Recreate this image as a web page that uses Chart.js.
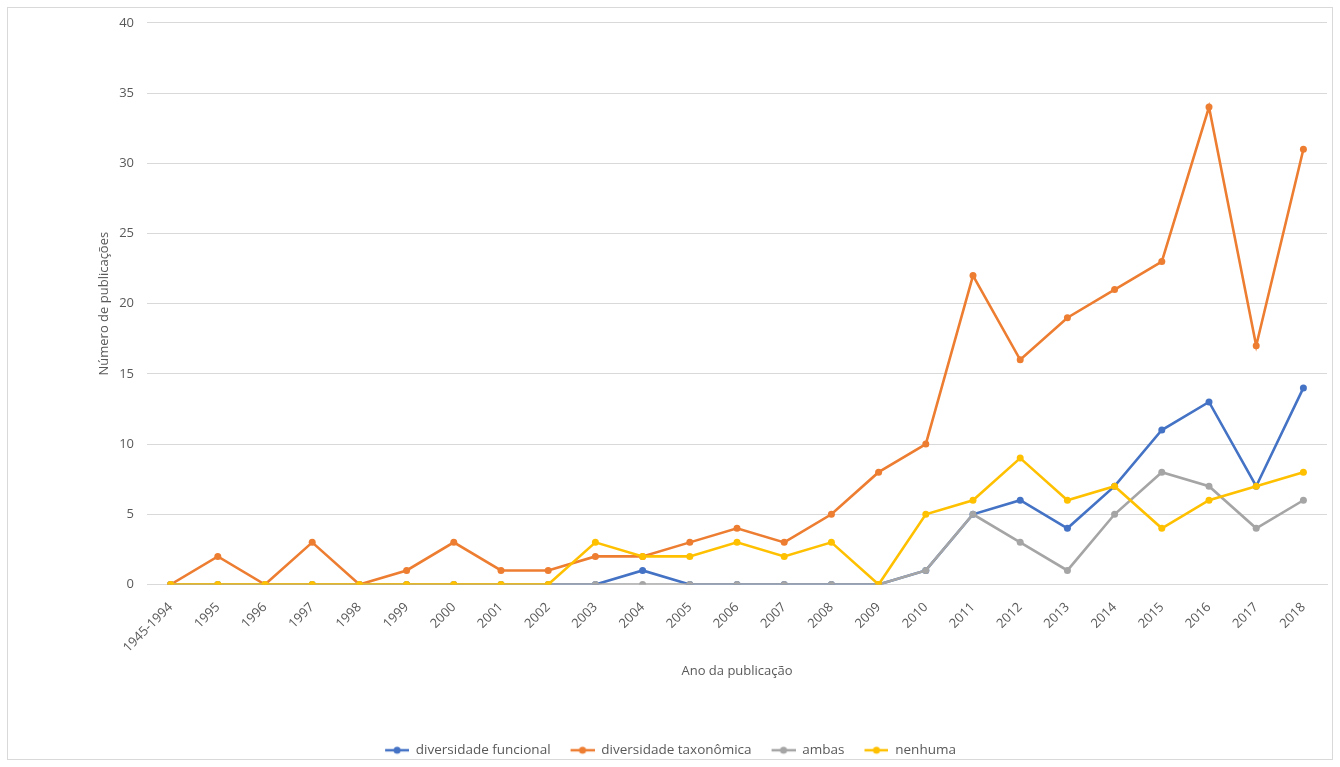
<!DOCTYPE html>
<html>
<head>
<meta charset="utf-8">
<script src="https://cdn.jsdelivr.net/npm/chart.js"></script>
<style>
  html, body { margin: 0; background: #fff; overflow: hidden; }
  #frame { position: absolute; left: 7px; top: 7px; width: 1324px; height: 751px; border: 1px solid #d9d9d9; }
  #chart { position: absolute; left: 8px; top: 2px; display: block; }
</style>
</head>
<body>
<div id="frame"></div>
<canvas id="chart" width="1324" height="765"></canvas>
<script>
// categories and series
const anos = ["1945-1994", "1995", "1996", "1997", "1998", "1999", "2000", "2001", "2002", "2003",
  "2004", "2005", "2006", "2007", "2008", "2009", "2010", "2011", "2012", "2013", "2014", "2015",
  "2016", "2017", "2018"];
const funcional = [0, 0, 0, 0, 0, 0, 0, 0, 0, 0, 1, 0, 0, 0, 0, 0, 1, 5, 6, 4, 7, 11, 13, 7, 14];
const taxonomica = [0, 2, 0, 3, 0, 1, 3, 1, 1, 2, 2, 3, 4, 3, 5, 8, 10, 22, 16, 19, 21, 23, 34, 17, 31];
const ambas = [0, 0, 0, 0, 0, 0, 0, 0, 0, 0, 0, 0, 0, 0, 0, 0, 1, 5, 3, 1, 5, 8, 7, 4, 6];
const nenhuma = [0, 0, 0, 0, 0, 0, 0, 0, 0, 3, 2, 2, 3, 2, 3, 0, 5, 6, 9, 6, 7, 4, 6, 7, 8];
const yTicks = [0, 5, 10, 15, 20, 25, 30, 35, 40];

const fontFam = "'Open Sans', 'Liberation Sans', sans-serif";
const textColor = "#595959";

// small "line with dot" marker like the Excel legend, with blank room on the left as item gap
function legendMarker(color) {
  const c = document.createElement("canvas");
  c.width = 34; c.height = 10;
  const g = c.getContext("2d");
  g.strokeStyle = color; g.lineWidth = 2.5;
  g.beginPath(); g.moveTo(10, 5); g.lineTo(34, 5); g.stroke();
  g.fillStyle = color;
  g.beginPath(); g.arc(22, 5, 3.5, 0, Math.PI * 2); g.fill();
  return c;
}

function serie(label, data, color, order) {
  return {
    label: label,
    data: data,
    order: order,
    borderColor: color,
    backgroundColor: color,
    borderWidth: 2.6,
    pointRadius: 3.5,
    pointHoverRadius: 3.5,
    pointBorderWidth: 0,
    pointStyle: "circle",
    tension: 0,
    legendMarker: legendMarker(color)
  };
}

// center the legend on the whole frame, not only on the plot side
const legendCenter = {
  id: "legendCenter",
  afterLayout(chart) {
    chart.legend.left = 0;
    chart.legend.right = 1315;
  }
};

new Chart(document.getElementById("chart"), {
  type: "line",
  data: {
    labels: anos,
    datasets: [
      serie("diversidade funcional", funcional, "#4472C4", 4),
      serie("diversidade taxonômica", taxonomica, "#ED7D31", 3),
      serie("ambas", ambas, "#A5A5A5", 2),
      serie("nenhuma", nenhuma, "#FFC000", 1)
    ]
  },
  plugins: [legendCenter],
  options: {
    responsive: false,
    animation: false,
    layout: { padding: { left: 84, right: 5, top: 8, bottom: 0 } },
    plugins: {
      tooltip: { enabled: false },
      legend: {
        position: "bottom",
        labels: {
          usePointStyle: true,
          pointStyleWidth: 34,
          padding: 10,
          color: textColor,
          font: { family: fontFam, size: 13.5 },
          generateLabels: function (chart) {
            return chart.data.datasets.map((ds, i) => ({
              text: ds.label,
              fillStyle: ds.borderColor,
              strokeStyle: ds.borderColor,
              fontColor: textColor,
              lineWidth: 0,
              pointStyle: ds.legendMarker,
              datasetIndex: i,
              hidden: false
            }));
          }
        }
      }
    },
    scales: {
      x: {
        offset: true,
        grid: { display: false, drawTicks: false },
        border: { color: "#d9d9d9" },
        ticks: {
          color: textColor,
          font: { family: fontFam, size: 13 },
          maxRotation: 45,
          minRotation: 45,
          autoSkip: false,
          padding: 15
        },
        title: {
          display: true,
          text: "Ano da publicação",
          color: textColor,
          font: { family: fontFam, size: 13 },
          padding: { top: 4, bottom: 54 }
        },
        afterFit: function (scale) { scale.height = 149; }
      },
      y: {
        min: 0,
        max: 40,
        grid: { color: "#d9d9d9", drawTicks: false, lineWidth: 1 },
        border: { display: false },
        afterBuildTicks: function (scale) { scale.ticks = yTicks.map(v => ({ value: v })); },
        ticks: {
          color: textColor,
          font: { family: fontFam, size: 13 },
          padding: 13
        },
        title: {
          display: true,
          text: "Número de publicações",
          color: textColor,
          font: { family: fontFam, size: 13 },
          padding: { top: 4, bottom: 4 }
        },
        afterFit: function (scale) { scale.width = 55; }
      }
    }
  }
});
</script>
</body>
</html>
